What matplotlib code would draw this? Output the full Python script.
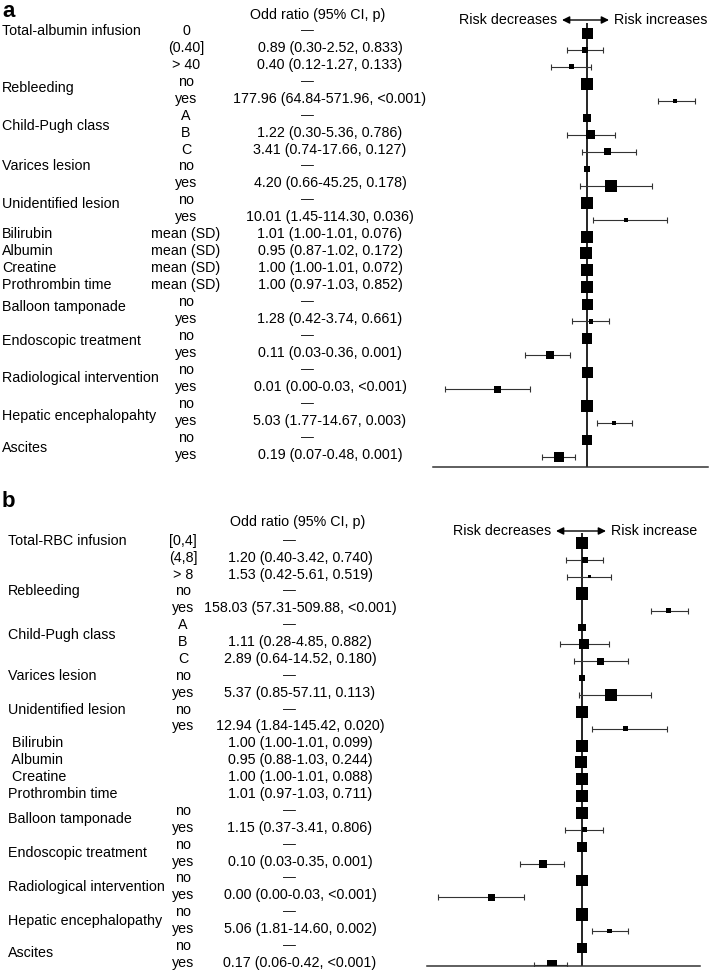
import numpy as np
import matplotlib
matplotlib.use('Agg')
import matplotlib.pyplot as plt
import matplotlib.transforms as mtransforms

plt.rcParams['font.family'] = ['Liberation Sans', 'DejaVu Sans']

W, H = 709, 977

# ---------- panel a : albumin infusion ----------
names_a = ['Total-albumin infusion', 'Rebleeding', 'Child-Pugh class', 'Varices lesion',
           'Unidentified lesion', 'Bilirubin', 'Albumin', 'Creatine', 'Prothrombin time',
           'Balloon tamponade', 'Endoscopic treatment', 'Radiological intervention',
           'Hepatic encephalopahty', 'Ascites']
levels_a = ['0', '(0.40]', '> 40', 'no', 'yes', 'A', 'B', 'C', 'no', 'yes', 'no', 'yes',
            'mean (SD)', 'mean (SD)', 'mean (SD)', 'mean (SD)',
            'no', 'yes', 'no', 'yes', 'no', 'yes', 'no', 'yes', 'no', 'yes']
or_text_a = ['—', '0.89 (0.30-2.52, 0.833)', '0.40 (0.12-1.27, 0.133)',
             '—', '177.96 (64.84-571.96, <0.001)',
             '—', '1.22 (0.30-5.36, 0.786)', '3.41 (0.74-17.66, 0.127)',
             '—', '4.20 (0.66-45.25, 0.178)',
             '—', '10.01 (1.45-114.30, 0.036)',
             '1.01 (1.00-1.01, 0.076)', '0.95 (0.87-1.02, 0.172)',
             '1.00 (1.00-1.01, 0.072)', '1.00 (0.97-1.03, 0.852)',
             '—', '1.28 (0.42-3.74, 0.661)',
             '—', '0.11 (0.03-0.36, 0.001)',
             '—', '0.01 (0.00-0.03, <0.001)',
             '—', '5.03 (1.77-14.67, 0.003)',
             '—', '0.19 (0.07-0.48, 0.001)']
or_a = [1, 0.89, 0.40, 1, 177.96, 1, 1.22, 3.41, 1, 4.20, 1, 10.01,
        1.01, 0.95, 1.00, 1.00, 1, 1.28, 1, 0.11, 1, 0.005, 1, 5.03, 1, 0.19]
lo_a = [1, 0.30, 0.12, 1, 64.84, 1, 0.30, 0.74, 1, 0.66, 1, 1.45,
        1.00, 0.87, 1.00, 0.97, 1, 0.42, 1, 0.025, 1, 0.00023, 1, 1.77, 1, 0.07]
hi_a = [1, 2.52, 1.27, 1, 571.96, 1, 5.36, 17.66, 1, 45.25, 1, 114.30,
        1.01, 1.02, 1.01, 1.03, 1, 3.74, 1, 0.36, 1, 0.034, 1, 14.67, 1, 0.48]
box_a = [11, 6, 5, 12, 4, 8, 9, 7, 6, 12, 12, 4, 12, 12, 12, 12,
         11, 4.5, 10.5, 8, 11, 7, 12, 4, 9.5, 10]

# ---------- panel b : RBC infusion ----------
names_b = ['Total-RBC infusion', 'Rebleeding', 'Child-Pugh class', 'Varices lesion',
           'Unidentified lesion', ' Bilirubin', ' Albumin', ' Creatine', 'Prothrombin time',
           'Balloon tamponade', 'Endoscopic treatment', 'Radiological intervention',
           'Hepatic encephalopathy', 'Ascites']
levels_b = ['[0,4]', '(4,8]', '> 8', 'no', 'yes', 'A', 'B', 'C', 'no', 'yes', 'no', 'yes',
            '', '', '', '',
            'no', 'yes', 'no', 'yes', 'no', 'yes', 'no', 'yes', 'no', 'yes']
or_text_b = ['—', '1.20 (0.40-3.42, 0.740)', '1.53 (0.42-5.61, 0.519)',
             '—', '158.03 (57.31-509.88, <0.001)',
             '—', '1.11 (0.28-4.85, 0.882)', '2.89 (0.64-14.52, 0.180)',
             '—', '5.37 (0.85-57.11, 0.113)',
             '—', '12.94 (1.84-145.42, 0.020)',
             '1.00 (1.00-1.01, 0.099)', '0.95 (0.88-1.03, 0.244)',
             '1.00 (1.00-1.01, 0.088)', '1.01 (0.97-1.03, 0.711)',
             '—', '1.15 (0.37-3.41, 0.806)',
             '—', '0.10 (0.03-0.35, 0.001)',
             '—', '0.00 (0.00-0.03, <0.001)',
             '—', '5.06 (1.81-14.60, 0.002)',
             '—', '0.17 (0.06-0.42, <0.001)']
or_b = [1, 1.20, 1.53, 1, 158.03, 1, 1.11, 2.89, 1, 5.37, 1, 12.94,
        1.00, 0.95, 1.00, 1.01, 1, 1.15, 1, 0.10, 1, 0.005, 1, 5.06, 1, 0.17]
lo_b = [1, 0.40, 0.42, 1, 57.31, 1, 0.28, 0.64, 1, 0.85, 1, 1.84,
        1.00, 0.88, 1.00, 0.97, 1, 0.37, 1, 0.026, 1, 0.00022, 1, 1.81, 1, 0.06]
hi_b = [1, 3.42, 5.61, 1, 509.88, 1, 4.85, 14.52, 1, 57.11, 1, 145.42,
        1.01, 1.03, 1.01, 1.03, 1, 3.41, 1, 0.35, 1, 0.034, 1, 14.60, 1, 0.42]
box_b = [12, 5.5, 3, 12.5, 5.5, 7.5, 10, 7, 6, 12, 12, 5.5, 12, 12, 12, 12,
         12, 5, 10.5, 8, 11.5, 7.5, 12.5, 4.5, 10, 10]

# where the variable names sit (in row units)
name_rows_a = [0, 3.4, 5.6, 8.0, 10.2, 12, 13, 14, 15, 16.3, 18.3, 20.5, 22.7, 24.6]
name_rows_b = [0, 3.0, 5.6, 8.0, 10.0, 12, 13, 14, 15, 16.5, 18.5, 20.5, 22.5, 24.4]


def fx(x):
    return x / W


def fy(y):
    return 1 - y / H


def draw_panel(fig, letter, lay, names, name_rows, levels, or_text, orv, lov, hiv, box):
    # lay: pixel layout of the panel
    x0, x1, xone = lay['x0'], lay['x1'], lay['xone']
    top, bottom, row0, step = lay['top'], lay['bottom'], lay['row0'], lay['step']
    ax = fig.add_axes([fx(x0), fy(bottom), (x1 - x0) / W, (bottom - top) / H])
    ax.set_xscale('log')
    dec = lay['pxdec']
    ax.set_xlim(10 ** ((x0 - xone) / dec), 10 ** ((x1 - xone) / dec))
    ax.set_ylim((bottom - row0) / step, (top - row0) / step)

    rows = np.arange(len(orv))
    orv, lov, hiv = np.array(orv), np.array(lov), np.array(hiv)
    ax.axvline(1, color='black', lw=1.2, zorder=2)
    has_ci = hiv > lov * 1.015
    ax.errorbar(orv[has_ci], rows[has_ci],
                xerr=[orv[has_ci] - lov[has_ci], hiv[has_ci] - orv[has_ci]],
                fmt='none', ecolor='#333333', elinewidth=0.8, capsize=2.2, capthick=0.8, zorder=3)
    ax.scatter(orv, rows, marker='s', s=(np.array(box) * 0.72) ** 2,
               color='black', linewidths=0, zorder=4)

    for s in ['top', 'left', 'right']:
        ax.spines[s].set_visible(False)
    ax.spines['bottom'].set_color('#333333')
    ax.spines['bottom'].set_linewidth(1.1)
    ax.set_xticks([])
    ax.set_xticks([], minor=True)
    ax.set_yticks([])
    ax.patch.set_alpha(0)

    tr = mtransforms.blended_transform_factory(fig.transFigure, ax.transData)
    fs = 10.3
    off = -0.13
    for nm, r in zip(names, name_rows):
        fig.text(fx(lay['name_x']), r + off, nm, transform=tr, ha='left', va='center', fontsize=fs)
    for r, lv in enumerate(levels):
        fig.text(fx(lay['level_x']), r + off, lv, transform=tr, ha='center', va='center', fontsize=fs)
    for r, t in enumerate(or_text):
        if t == '—':
            fig.text(fx(lay['dash_x']), r + off, t, transform=tr, ha='center', va='center', fontsize=fs - 1)
        else:
            fig.text(fx(lay['or_x']), r + off, t, transform=tr, ha='center', va='center', fontsize=fs)

    fig.text(fx(lay['head_x']), fy(lay['head_y']), 'Odd ratio (95% CI, p)',
             ha='center', va='center', fontsize=fs)
    fig.text(fx(2), fy(lay['letter_y']), letter, ha='left', va='baseline',
             fontsize=16, fontweight='bold')

    ay = fy(lay['arrow_y'])
    fig.add_artist(matplotlib.patches.FancyArrowPatch(
        (fx(lay['arr0']), ay), (fx(lay['arr1']), ay), transform=fig.transFigure,
        arrowstyle='<|-|>', mutation_scale=11, color='black', lw=1.0,
        shrinkA=0, shrinkB=0))
    fig.text(fx(lay['arr0'] - 5), ay, 'Risk decreases', ha='right', va='center', fontsize=fs)
    fig.text(fx(lay['arr1'] + 5), ay, lay['inc_label'], ha='left', va='center', fontsize=fs)
    return ax


fig = plt.figure(figsize=(W / 100, H / 100), dpi=100)

lay_a = dict(x0=433, x1=708, xone=587, pxdec=39.0, top=23, bottom=467, row0=33, step=16.96,
             name_x=2, level_x=186, or_x=330, dash_x=307, head_x=318, head_y=15,
             letter_y=17, arrow_y=20, arr0=562, arr1=609, inc_label='Risk increases')
lay_b = dict(x0=427, x1=700, xone=582, pxdec=39.3, top=533, bottom=966, row0=543, step=16.88,
             name_x=8, level_x=183, or_x=300, dash_x=289, head_x=298, head_y=522,
             letter_y=507, arrow_y=531, arr0=556, arr1=606, inc_label='Risk increase')

draw_panel(fig, 'a', lay_a, names_a, name_rows_a, levels_a, or_text_a, or_a, lo_a, hi_a, box_a)
draw_panel(fig, 'b', lay_b, names_b, name_rows_b, levels_b, or_text_b, or_b, lo_b, hi_b, box_b)

fig.savefig('out.png', dpi=100)
